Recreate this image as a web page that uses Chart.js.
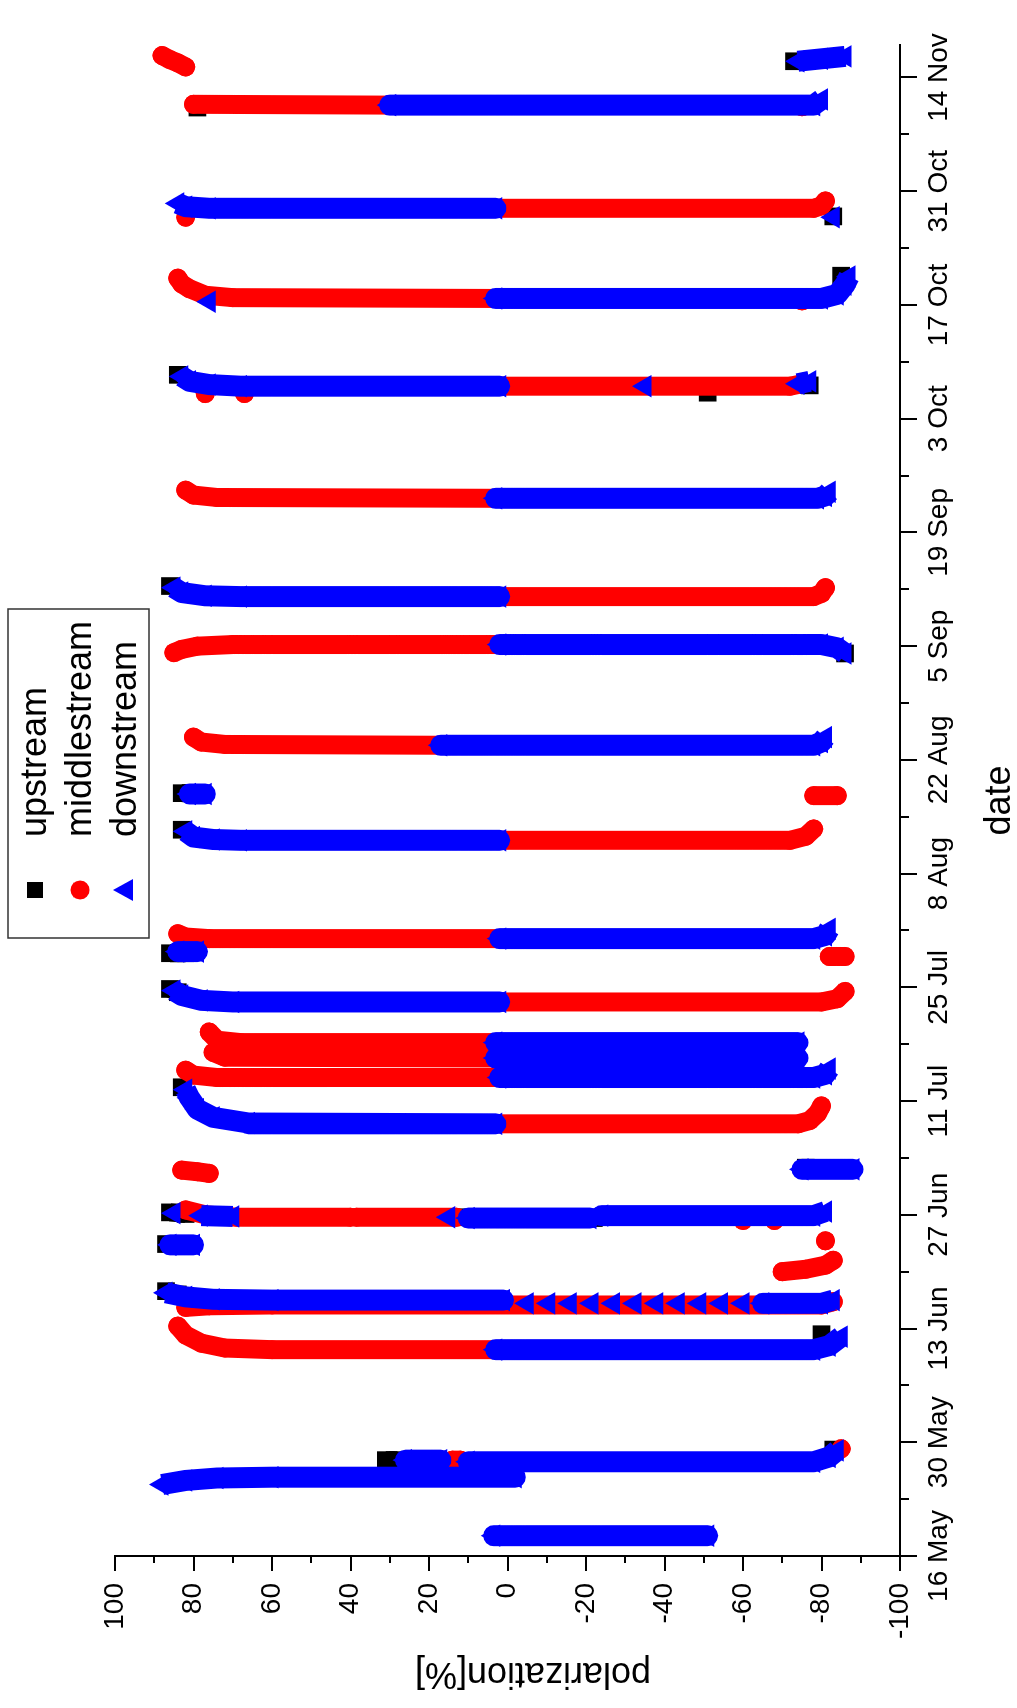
<!DOCTYPE html>
<html>
<head>
<meta charset="utf-8">
<script src="https://cdn.jsdelivr.net/npm/chart.js@4.4.1/dist/chart.umd.min.js"></script>
<style>
  html, body { margin: 0; padding: 0; background: #fff; overflow: hidden; }
  #wrap { position: relative; width: 1017px; height: 1708px; overflow: hidden; background: #fff; }
  /* the plot is drawn lying down, then turned a quarter turn like the original figure */
  #chart { position: absolute; left: 0; top: 0; transform-origin: 0 0; transform: translate(0, 1708px) rotate(-90deg); }
</style>
</head>
<body>
<div id="wrap"><canvas id="chart" width="1708" height="1017"></canvas></div>
<script>
// x = days after 16 May, y = polarization [%]
const dateLabels = ['16 May', '30 May', '13 Jun', '27 Jun', '11 Jul', '25 Jul', '8 Aug',
                    '22 Aug', '5 Sep', '19 Sep', '3 Oct', '17 Oct', '31 Oct', '14 Nov'];

// each run is one dense sweep of markers: [day, polarization]
const upstreamRuns = [
  [[2.6, 1]],
  [[11.8, 31], [11.8, 28]], [[13.1, -83]],
  [[27.3, -80]],
  [[32.6, 87], [32.2, 84]],
  [[42.3, 86], [42.1, 82]], [[38.4, 87], [38.4, 82]], [[41.7, 12]], [[41.6, -22]], [[47.8, -76]],
  [[57.7, 83]],
  [[69.8, 86], [69.4, 84]], [[74.2, 86], [74.2, 82]],
  [[89.4, 83]], [[93.9, 83], [93.9, 80]],
  [[111.1, -86]],
  [[119.4, 86]],
  [[145.4, 84]], [[143.2, -51]], [[144.1, -77]],
  [[157.6, -85]],
  [[164.9, -83]],
  [[178.3, 79]], [[184.0, -73]]
];

const middlestreamRuns = [
  [[2.5, 2], [2.5, -3]],
  [[11.8, 14], [11.8, 12]], [[13.2, -85]],
  [[28.3, 84], [27.2, 82], [26.2, 78], [25.6, 72], [25.4, 60], [25.4, 3]],
  [[30.6, 82], [30.8, 76], [30.9, 60], [30.9, -80], [31.3, -83]],
  [[35.0, -70], [35.3, -76], [35.8, -81], [36.4, -83]],
  [[42.6, 82], [42.0, 77], [41.7, 69], [41.7, 40]], [[41.7, 38.5], [41.7, 13]],
  [[47.5, 83], [47.3, 79], [47.1, 76]], [[41.3, -60]], [[41.3, -68]], [[38.8, -81]],
  [[53.2, 3], [53.2, -74], [53.6, -77], [54.5, -79], [55.4, -80]],
  [[59.8, 82], [59.2, 80], [58.9, 74], [58.9, 2]],
  [[64.5, 76], [63.5, 74], [63.2, 68], [63.2, 3]], [[62.0, 75], [61.4, 72], [61.3, 3]],
  [[68.2, 2], [68.2, -80], [68.6, -84], [69.5, -86]], [[73.8, -82], [73.8, -86]],
  [[76.6, 84], [76.2, 82], [76.0, 76], [76.0, 2]],
  [[88.1, 2], [88.1, -72], [88.6, -76], [89.5, -78]], [[93.6, -78], [93.6, -84]],
  [[100.8, 80], [100.2, 78], [99.9, 72], [99.8, 17]],
  [[111.2, 85], [111.6, 83], [112.0, 79], [112.2, 70], [112.2, 2]],
  [[118.1, 2], [118.1, -78], [118.5, -80], [119.2, -81]],
  [[131.2, 82], [130.6, 80], [130.3, 74], [130.2, 3]],
  [[144.0, 2], [144.0, -72], [144.3, -75]], [[143.1, 77]], [[143.1, 67]],
  [[157.3, 84], [156.6, 83], [156.0, 81], [155.2, 77], [154.9, 70], [154.8, 3]], [[154.5, -75]],
  [[165.9, 3], [165.9, -78], [166.2, -80], [166.8, -81]], [[164.8, 82]],
  [[178.7, 80], [178.6, 30]], [[184.7, 88], [184.2, 86], [183.8, 84], [183.3, 82]], [[178.4, -75]]
];

const downstreamRuns = [
  [[2.5, 3.5], [2.5, -51]],
  [[8.8, 88], [9.3, 82], [9.6, 74], [9.7, 60], [9.7, -2]],
  [[11.8, 26], [11.8, 17]],
  [[11.6, 10], [11.6, -78], [12.2, -82], [13.0, -84]],
  [[25.4, 3], [25.4, -78], [25.9, -82], [27.0, -85]],
  [[32.4, 87], [31.9, 82], [31.6, 75], [31.5, 60], [31.5, 1]],
  [[31.1, -5]], [[31.1, -10.5]], [[31.1, -16]], [[31.1, -21.5]], [[31.1, -27]], [[31.1, -32.5]],
  [[31.1, -38]], [[31.1, -43.5]], [[31.1, -49]], [[31.1, -54.5]], [[31.1, -60]],
  [[31.1, -65], [31.1, -80], [31.5, -83]],
  [[42.2, 85]], [[38.3, 86], [38.3, 80]], [[41.9, 78], [41.8, 70]], [[41.7, 15]],
  [[41.6, 10], [41.6, -21]], [[41.9, -24], [41.9, -78], [42.4, -81]], [[47.6, -75], [47.6, -88]],
  [[57.4, 82], [56.4, 81], [55.0, 79], [54.0, 75], [53.3, 66], [53.2, 3]],
  [[58.9, 2], [58.9, -78], [59.3, -81], [60.0, -82]],
  [[63.2, 3], [63.2, -74]], [[61.3, 3], [61.3, -74]],
  [[69.6, 85], [69.0, 83], [68.4, 78], [68.2, 70], [68.2, 2]], [[74.4, 84], [74.4, 79]],
  [[76.0, 2], [76.0, -78], [76.4, -81], [77.2, -82]],
  [[89.2, 82], [88.5, 80], [88.2, 75], [88.1, 68], [88.1, 2]], [[93.8, 81], [93.8, 77]],
  [[99.8, 17], [99.8, -78], [100.2, -80], [100.8, -81]],
  [[112.2, 2], [112.2, -80], [111.8, -84], [111.1, -86]],
  [[119.2, 85], [118.6, 83], [118.2, 77], [118.1, 68], [118.1, 2]],
  [[130.2, 3], [130.2, -79], [130.5, -81], [131.0, -82]],
  [[145.2, 83], [144.6, 81], [144.2, 76], [144.0, 68], [144.0, 2]], [[144.0, -35]], [[144.3, -74], [144.6, -77]],
  [[154.4, 76]], [[154.8, 3], [154.8, -80], [155.3, -84], [156.5, -86], [157.5, -87]],
  [[166.5, 84], [166.1, 82], [165.9, 76], [165.9, 3]], [[164.8, -83]],
  [[178.6, 30], [178.6, -78], [179.3, -80]], [[184.0, -74], [184.3, -80], [184.6, -86]]
];

// runs -> one point list, a null y between runs so the line breaks
function toPoints(runs) {
  const pts = [];
  runs.forEach(run => {
    run.forEach(p => pts.push({ x: p[0], y: p[1] }));
    pts.push({ x: run[run.length - 1][0], y: null });
  });
  return pts;
}

const xTicks = [];
for (let d = 0; d <= 182; d += 7) xTicks.push(d);
const yTicks = [];
for (let v = -100; v <= 100; v += 10) yTicks.push(v);

const FONT = "'Liberation Sans', Arial, sans-serif";

// ticks, axis titles and the boxed legend
const decor = {
  id: 'decor',
  afterDraw(chart) {
    const { ctx, chartArea: a, scales: { x, y } } = chart;
    ctx.save();
    ctx.strokeStyle = '#000';
    ctx.lineWidth = 2;
    ctx.beginPath();
    ctx.moveTo(a.left, a.top);
    ctx.lineTo(a.left, a.bottom);
    ctx.lineTo(a.right, a.bottom);
    xTicks.forEach(v => {
      const px = Math.round(x.getPixelForValue(v));
      ctx.moveTo(px, a.bottom);
      ctx.lineTo(px, a.bottom + (v % 14 === 0 ? 17 : 9));
    });
    yTicks.forEach(v => {
      const py = Math.round(y.getPixelForValue(v));
      ctx.moveTo(a.left, py);
      ctx.lineTo(a.left - (v % 20 === 0 ? 15 : 7), py);
    });
    ctx.stroke();

    ctx.fillStyle = '#000';
    ctx.font = '36px ' + FONT;
    ctx.textAlign = 'center';
    ctx.textBaseline = 'middle';
    ctx.fillText('date', (a.left + a.right) / 2, 1000);
    ctx.save();
    ctx.translate(35, 533);
    ctx.rotate(-Math.PI / 2);
    ctx.fillText('polarization[%]', 0, 0);
    ctx.restore();

    // legend
    ctx.lineWidth = 1.5;
    ctx.strokeStyle = '#333';
    ctx.strokeRect(770, 8, 329, 141);
    const items = chart.data.datasets;
    ctx.textAlign = 'left';
    items.forEach((ds, i) => {
      const cy = 35 + i * 45;
      const cx = 818;
      ctx.fillStyle = ds.backgroundColor;
      ctx.beginPath();
      if (ds.pointStyle === 'rect') {
        ctx.rect(cx - 8, cy - 8, 16, 16);
      } else if (ds.pointStyle === 'circle') {
        ctx.arc(cx, cy, 9.5, 0, Math.PI * 2);
      } else {
        ctx.moveTo(cx, cy - 12);
        ctx.lineTo(cx + 11, cy + 8);
        ctx.lineTo(cx - 11, cy + 8);
        ctx.closePath();
      }
      ctx.fill();
      ctx.fillStyle = '#000';
      ctx.fillText(ds.label, 871, cy + 1);
    });
    ctx.restore();
  }
};

new Chart(document.getElementById('chart'), {
  type: 'scatter',
  data: {
    datasets: [
      {
        label: 'upstream',
        data: toPoints(upstreamRuns),
        showLine: true,
        spanGaps: false,
        borderColor: '#000000',
        backgroundColor: '#000000',
        borderWidth: 18,
        borderCapStyle: 'butt',
        pointStyle: 'rect',
        pointRadius: 12.5,
        pointBorderWidth: 0,
        order: 3
      },
      {
        label: 'middlestream',
        data: toPoints(middlestreamRuns),
        showLine: true,
        spanGaps: false,
        borderColor: '#ff0000',
        backgroundColor: '#ff0000',
        borderWidth: 19,
        borderCapStyle: 'round',
        borderJoinStyle: 'round',
        pointStyle: 'circle',
        pointRadius: 9.5,
        pointBorderWidth: 0,
        order: 2
      },
      {
        label: 'downstream',
        data: toPoints(downstreamRuns),
        showLine: true,
        spanGaps: false,
        borderColor: '#0000ff',
        backgroundColor: '#0000ff',
        borderWidth: 21,
        borderCapStyle: 'butt',
        borderJoinStyle: 'round',
        pointStyle: 'triangle',
        pointRadius: 13,
        pointBorderWidth: 0,
        order: 1
      }
    ]
  },
  options: {
    responsive: false,
    animation: false,
    events: [],
    layout: { padding: { left: 0, right: 45, top: 115, bottom: 0 } },
    plugins: { legend: { display: false }, tooltip: { enabled: false } },
    scales: {
      x: {
        type: 'linear',
        min: 0,
        max: 186,
        grid: { display: false, drawTicks: false },
        border: { display: true, color: '#000', width: 2 },
        afterBuildTicks: s => { s.ticks = xTicks.map(v => ({ value: v })); },
        afterFit: s => { s.height = 117; },
        ticks: {
          padding: 22,
          color: '#000',
          maxRotation: 0,
          autoSkip: false,
          font: { family: FONT, size: 28 },
          callback: v => (v % 14 === 0 ? dateLabels[v / 14] : '')
        }
      },
      y: {
        type: 'linear',
        min: -100,
        max: 100,
        grid: { display: false, drawTicks: false },
        border: { display: true, color: '#000', width: 2 },
        afterBuildTicks: s => { s.ticks = yTicks.map(v => ({ value: v })); },
        afterFit: s => { s.width = 152; },
        ticks: {
          padding: 27,
          color: '#000',
          autoSkip: false,
          font: { family: FONT, size: 28 },
          callback: v => (v % 20 === 0 ? String(v) : '')
        }
      }
    }
  },
  plugins: [decor]
});
</script>
</body>
</html>
